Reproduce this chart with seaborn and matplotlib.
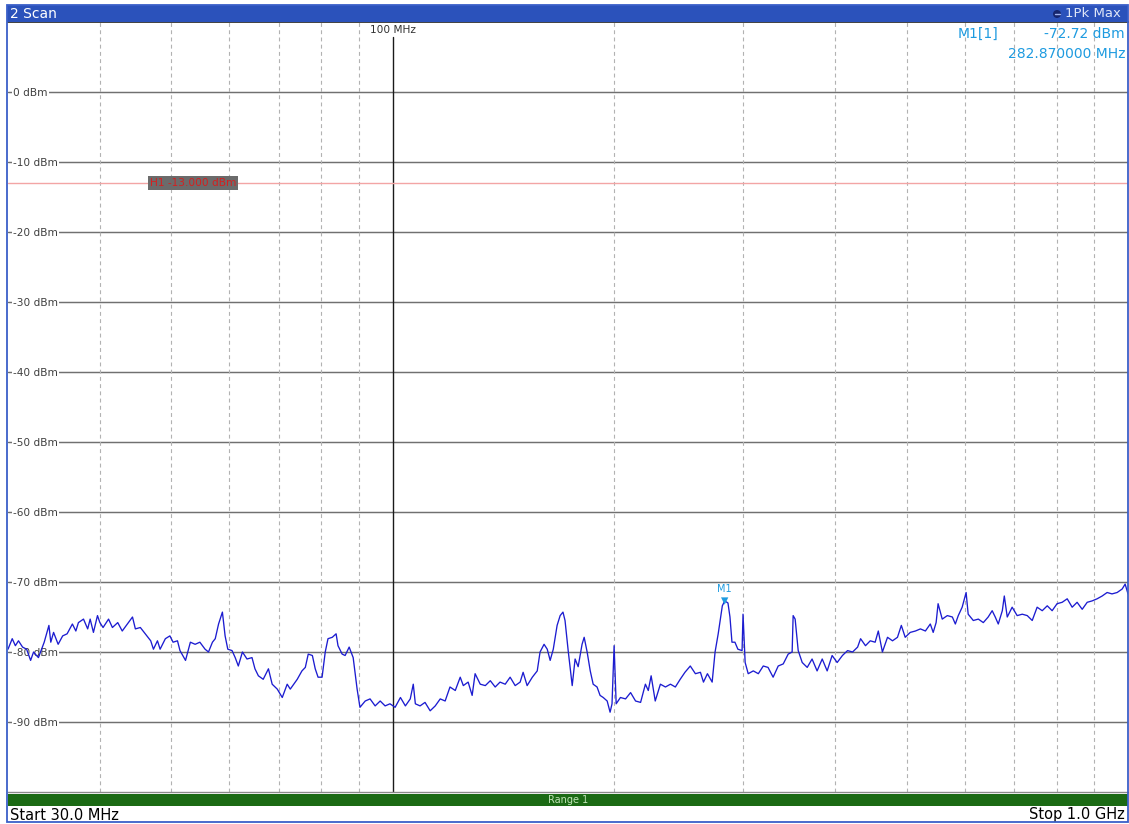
import matplotlib
matplotlib.use("Agg")
import matplotlib.pyplot as plt
from matplotlib.patches import Rectangle, Ellipse
from matplotlib.lines import Line2D
from matplotlib.ticker import NullLocator
import pandas as pd
import seaborn as sns

# ---------------------------------------------------------------
# Sweep points (MHz) and measured trace level (dBm), 1Pk Max detector
# ---------------------------------------------------------------
freq_mhz = [
    30.0, 30.4, 30.7, 31.0, 31.4, 31.8, 32.2, 32.5, 32.8, 33.0, 33.6, 34.1, 34.3,
    34.6, 35.1, 35.6, 36.1, 36.7, 37.1, 37.4, 38.0, 38.5, 38.8, 39.2, 39.7,
    40.0, 40.4, 41.1, 41.6, 42.3, 42.9, 43.6, 44.3, 44.7, 45.4, 46.1, 46.9, 47.3,
    47.9, 48.3, 49.1, 49.8,
    50.3, 51.0, 51.4, 52.3, 53.1, 53.9, 54.7, 55.6, 56.2, 56.9, 57.4, 58.0, 58.7,
    59.2, 59.7,
    60.5, 61.1, 61.7, 62.5, 63.4, 64.4, 65.0, 65.7, 66.7, 67.8, 68.6, 69.7,
    70.8, 71.9, 72.6, 74.2, 75.3, 76.1, 76.8, 77.8, 78.5, 79.2,
    80.2, 81.0, 81.7, 82.8, 83.8, 84.3, 85.4, 86.2, 87.3, 88.4, 89.5,
    90.3, 91.8, 93.2, 94.7, 96.2, 97.7, 99.2,
    100.8, 102.5, 104.1, 105.7, 106.7, 107.4, 109.0, 110.7, 112.5, 114.3, 116.1,
    117.9, 119.7,
    121.7, 123.6, 124.8, 126.7, 128.3, 129.5, 131.6, 133.7, 135.8, 137.9, 140.0,
    142.3, 144.5, 146.8, 149.1, 150.5, 152.4, 154.9, 157.3, 158.7, 160.7, 162.3,
    163.8, 165.4, 167.4, 169.0,
    170.5, 171.6, 173.3, 175.5, 177.1, 178.8, 181.0, 182.2, 183.9, 185.7, 187.4,
    189.7,
    191.5, 193.4, 195.8, 197.6, 198.8, 200.1, 201.4, 204.1, 207.4, 210.7, 214.0,
    217.4, 220.7, 222.7, 224.7, 227.6,
    231.3, 235.0, 238.7, 242.4, 246.1, 249.8, 254.0, 258.1, 262.2, 264.7, 268.0,
    272.0, 274.5, 277.2, 280.8, 282.87,
    284.9, 285.8, 287.6, 289.4, 292.1, 294.8, 298.7, 299.6, 301.6, 304.5, 309.4,
    314.3, 319.2, 324.0, 329.2, 334.5, 339.8, 345.1, 349.4, 350.5, 352.7, 356.1,
    360.6, 366.3, 371.9, 377.8, 383.9, 389.9, 396.0, 402.3, 409.0, 415.6, 422.2,
    428.9, 432.9, 439.6, 446.2, 453.1, 457.6, 463.5, 471.0, 478.4, 485.9, 491.8,
    497.8,
    505.7, 514.0, 522.1, 530.3, 538.5, 543.4, 548.4, 551.8, 559.0, 568.0, 577.0,
    582.4, 587.8, 595.0, 602.4, 606.3, 616.1, 625.9, 635.7, 645.5, 653.6, 659.9,
    666.2, 674.7, 678.9, 685.2, 695.8,
    706.8, 718.2, 729.5, 740.9, 752.4, 764.5, 776.6, 788.6, 800.8, 813.7, 826.7,
    839.6, 852.7, 866.4, 880.1, 893.7, 907.8, 922.3, 936.7, 951.2, 966.6, 981.9,
    991.1, 1000.0,
]

level_dbm = [
    -79.6, -78.1, -79.1, -78.4, -79.3, -79.6, -81.2, -80.0, -80.5, -80.8, -78.6, -76.2, -78.6,
    -77.2, -78.9, -77.7, -77.4, -76.0, -77.0, -75.8, -75.3, -76.7, -75.3, -77.2, -74.8,
    -75.8, -76.5, -75.3, -76.5, -75.8, -77.0, -76.0, -75.0, -76.7, -76.5, -77.4, -78.4, -79.6,
    -78.4, -79.6, -78.1, -77.7,
    -78.6, -78.4, -79.8, -81.2, -78.6, -78.9, -78.6, -79.6, -80.0, -78.6, -78.1, -76.0, -74.3,
    -77.7, -79.6,
    -79.8, -80.8, -82.0, -80.0, -81.0, -80.8, -82.4, -83.4, -83.9, -82.4, -84.6, -85.3,
    -86.5, -84.6, -85.3, -83.9, -82.7, -82.2, -80.3, -80.5, -82.4, -83.6,
    -83.6, -80.0, -78.1, -77.9, -77.4, -79.1, -80.3, -80.5, -79.3, -80.8, -85.3,
    -87.9, -87.0, -86.7, -87.7, -87.0, -87.7, -87.4,
    -87.9, -86.5, -87.7, -86.7, -84.6, -87.4, -87.7, -87.2, -88.4, -87.7, -86.7,
    -87.0, -85.0,
    -85.5, -83.6, -84.8, -84.3, -86.2, -83.1, -84.6, -84.8, -84.1, -85.0, -84.3,
    -84.6, -83.6, -84.8, -84.3, -82.9, -84.8, -83.6, -82.7, -80.0, -78.9, -79.6,
    -81.2, -79.6, -76.2, -74.8,
    -74.3, -75.5, -79.8, -84.8, -81.0, -82.1, -78.9, -77.9, -80.0, -82.7, -84.6,
    -85.0,
    -86.2, -86.5, -87.0, -88.6, -87.4, -79.1, -87.4, -86.5, -86.7, -85.8, -87.0,
    -87.2, -84.6, -85.5, -83.4, -87.0,
    -84.6, -85.0, -84.6, -85.0, -83.9, -82.9, -82.0, -83.1, -82.9, -84.3, -83.1,
    -84.3, -80.0, -77.4, -73.4, -72.72,
    -72.9, -73.0, -75.0, -78.6, -78.6, -79.6, -79.8, -74.6, -81.5, -83.1, -82.7,
    -83.1, -82.0, -82.2, -83.6, -82.0, -81.7, -80.3, -80.0, -74.8, -75.3, -79.8,
    -81.5, -82.2, -81.0, -82.7, -81.0, -82.7, -80.5, -81.5, -80.5, -79.8, -80.0,
    -79.3, -78.1, -79.1, -78.4, -78.6, -77.0, -80.0, -77.9, -78.4, -77.9, -76.2,
    -77.9,
    -77.2, -77.0, -76.7, -77.0, -76.0, -77.2, -75.8, -73.1, -75.3, -74.8, -75.0,
    -76.0, -74.8, -73.6, -71.5, -74.6, -75.5, -75.3, -75.8, -75.0, -74.1, -75.0,
    -76.0, -74.1, -72.0, -75.0, -73.6,
    -74.8, -74.6, -74.8, -75.5, -73.6, -74.1, -73.4, -74.1, -73.1, -72.9, -72.4,
    -73.6, -72.9, -73.9, -72.9, -72.7, -72.4, -72.0, -71.5, -71.7, -71.5, -71.0,
    -70.3, -71.7,
]

# Marker M1 and display line H1
marker_freq_mhz = 282.87
marker_level_dbm = -72.72
limit_dbm = -13.0

# Axis scaling
start_mhz, stop_mhz = 30.0, 1000.0
ref_levels_dbm = [0, -10, -20, -30, -40, -50, -60, -70, -80, -90]
grid_freqs_mhz = [40, 50, 60, 70, 80, 90, 200, 300, 400, 500, 600, 700, 800, 900]
decade_freq_mhz = 100

# ---------------------------------------------------------------
W, H = 1129, 824
BLUE_BAR = "#2b52bb"
TRACE = "#1c1cd0"
MARK = "#1e9be0"

sns.set_style("white")
plt.rcParams["font.family"] = ["DejaVu Sans"]

fig = plt.figure(figsize=(W / 100, H / 100), dpi=100)
fig.patch.set_facecolor("white")


def fx(px):
    return px / W


def fy(py):
    return 1 - py / H


ax = fig.add_axes([fx(8), fy(792), 1120 / W, 770 / H])

df = pd.DataFrame({"Frequency (MHz)": freq_mhz, "Level (dBm)": level_dbm})
sns.lineplot(data=df, x="Frequency (MHz)", y="Level (dBm)", ax=ax,
             color=TRACE, lw=0.95, estimator=None, zorder=5)

ax.set_xscale("log")
ax.set_xlim(start_mhz, stop_mhz)
ax.set_ylim(-100, 10)
ax.set_xlabel("")
ax.set_ylabel("")
ax.xaxis.set_major_locator(NullLocator())
ax.xaxis.set_minor_locator(NullLocator())

# level grid with labels sitting inside the diagram
ax.set_yticks(ref_levels_dbm)
ax.set_yticklabels([f"{v} dBm" for v in ref_levels_dbm])
ax.yaxis.grid(True, color="#707070", lw=1.05)
ax.set_axisbelow(True)
ax.tick_params(axis="y", direction="in", length=0, pad=-3.6,
               labelsize=7.6, labelcolor="#404040")
for lbl in ax.get_yticklabels():
    lbl.set_horizontalalignment("left")
    lbl.set_bbox(dict(facecolor="white", edgecolor="none", pad=0.8))

# frequency grid
for f in grid_freqs_mhz:
    ax.axvline(f, color="#b2b2b2", lw=0.8, ls=(0, (3.5, 3)), zorder=1)
ax.axvline(decade_freq_mhz, color="#1a1a1a", lw=1.0, ymax=0.981, zorder=1)
ax.text(decade_freq_mhz, 0.996, f"{decade_freq_mhz} MHz",
        transform=ax.get_xaxis_transform(), ha="center", va="top",
        fontsize=7.6, color="#333333")

# display line H1
ax.axhline(limit_dbm, color="#f3a5a5", lw=1.0, zorder=2)
ax.text(0.1268, limit_dbm, f"H1 {limit_dbm:.3f} dBm",
        transform=ax.get_yaxis_transform(), ha="left", va="center",
        fontsize=7.6, color="#d42020", zorder=6,
        bbox=dict(boxstyle="square,pad=0.15", facecolor="#6b6b6b", edgecolor="none"))

# marker M1
sns.scatterplot(x=[marker_freq_mhz], y=[marker_level_dbm], marker="v", s=28,
                color=MARK, edgecolor="none", ax=ax, zorder=7)
ax.annotate("M1", xy=(marker_freq_mhz, marker_level_dbm), xytext=(0, 5),
            textcoords="offset points", ha="center", va="bottom",
            fontsize=7, color=MARK, zorder=7)

for side in ("left", "right"):
    ax.spines[side].set_visible(False)
ax.spines["top"].set_color("#202020")
ax.spines["top"].set_linewidth(1.2)
ax.spines["bottom"].set_color("#8a8a8a")
ax.spines["bottom"].set_linewidth(1.0)

# ---------------------------------------------------------------
# window chrome: title bar, readout, range bar, start/stop
# ---------------------------------------------------------------
fig.add_artist(Rectangle((fx(7), fy(22)), 1121 / W, 17 / H, transform=fig.transFigure,
                         facecolor=BLUE_BAR, edgecolor="none", zorder=3))
fig.add_artist(Rectangle((fx(7), fy(822)), 1121 / W, 817 / H, transform=fig.transFigure,
                         fill=False, edgecolor="#3a5fc8", lw=1.3, zorder=4))
fig.text(fx(10), fy(13.5), "2 Scan", color="white", fontsize=10,
         ha="left", va="center", zorder=5)
fig.add_artist(Ellipse((fx(1057), fy(14)), 8 / W, 8 / H, transform=fig.transFigure,
                       facecolor="#16266e", edgecolor="none", zorder=5))
fig.add_artist(Line2D([fx(1054.5), fx(1059.5)], [fy(14), fy(14)],
                      transform=fig.transFigure, color="#9fb2ee", lw=1.0, zorder=6))
fig.text(fx(1121), fy(13.5), "1Pk Max", color="#dfe6f7", fontsize=9.5,
         ha="right", va="center", zorder=5)

fig.text(fx(958), fy(34), "M1[1]", color=MARK, fontsize=10, ha="left", va="center")
fig.text(fx(1125), fy(34), f"{marker_level_dbm:.2f} dBm", color=MARK, fontsize=10,
         ha="right", va="center")
fig.text(fx(1125), fy(54), f"{marker_freq_mhz:.6f} MHz", color=MARK, fontsize=10,
         ha="right", va="center")

fig.add_artist(Rectangle((fx(8), fy(806)), 1120 / W, 12 / H, transform=fig.transFigure,
                         facecolor="#1b6a14", edgecolor="none", zorder=3))
fig.text(fx(568), fy(800), "Range 1", color="#bfe3b5", fontsize=7,
         ha="center", va="center", zorder=5)
fig.text(fx(10), fy(815), f"Start {start_mhz:.1f} MHz", color="black", fontsize=10.5,
         ha="left", va="center")
fig.text(fx(1125), fy(815), f"Stop {stop_mhz / 1000:.1f} GHz", color="black",
         fontsize=10.5, ha="right", va="center")

fig.savefig("out.png", dpi=100, facecolor="white")
